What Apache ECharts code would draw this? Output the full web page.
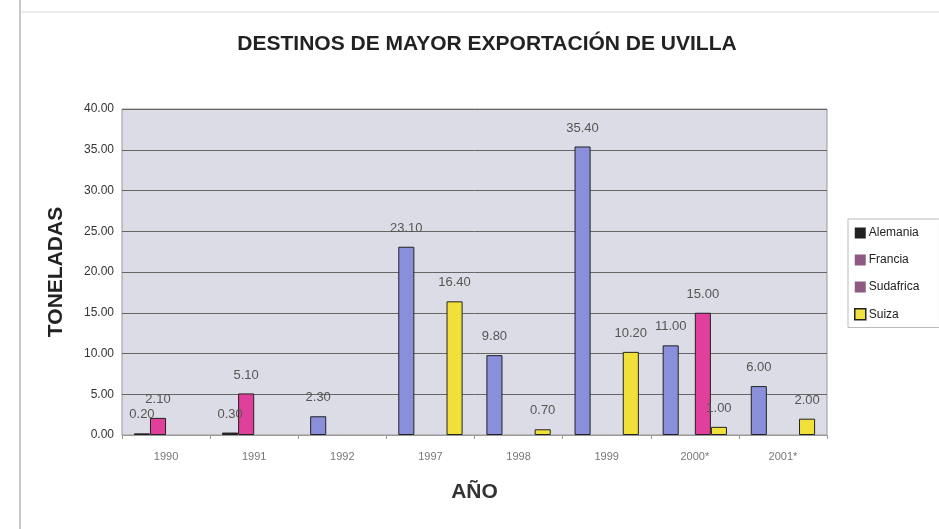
<!DOCTYPE html>
<html>
<head>
<meta charset="utf-8">
<script src="https://cdn.jsdelivr.net/npm/echarts@6/dist/echarts.min.js"></script>
<style>
html, body { margin: 0; padding: 0; background: #fff; }
#chart { width: 939px; height: 529px; }
</style>
</head>
<body>
<div id="chart"></div>
<script>
var years = ['1990', '1991', '1992', '1997', '1998', '1999', '2000*', '2001*'];
var yTicks = [0, 5, 10, 15, 20, 25, 30, 35, 40];
var seriesNames = ['Alemania', 'Francia', 'Sudafrica', 'Suiza'];
// primer lugar de cada grupo (negro en 1990-91, azul despues)
var alemania = [0.2, 0.3, 2.3, 23.1, 9.8, 35.4, 11.0, 6.0];
var francia = [2.1, 5.1, null, null, null, null, null, null];
var sudafrica = [null, null, null, null, null, null, 15.0, null];
var suiza = [null, null, null, 16.4, 0.7, 10.2, 1.0, 2.0];

var myChart = echarts.init(document.getElementById('chart'));

var labelStyle = {
    show: true,
    position: 'top',
    distance: 12,
    color: '#555',
    fontSize: 13,
    fontFamily: 'Arial, "Liberation Sans", sans-serif',
    formatter: function (p) { return p.value == null ? '' : p.value.toFixed(2); }
};

function barSeries(name, data, color) {
    return {
        name: name,
        type: 'bar',
        data: data,
        barGap: 0,
        barCategoryGap: '27%',
        itemStyle: {
            color: color,
            borderColor: '#222',
            borderWidth: 1
        },
        label: labelStyle
    };
}

var s1 = barSeries(seriesNames[0], alemania, function (p) {
    return p.dataIndex < 2 ? '#222' : '#8a8fdc';
});

var option = {
    backgroundColor: '#fff',
    title: {
        text: 'DESTINOS DE MAYOR EXPORTACIÓN DE UVILLA',
        left: 482,
        textAlign: 'center',
        top: 29,
        textStyle: {
            fontFamily: 'Arial, "Liberation Sans", sans-serif',
            fontWeight: 'bold',
            fontSize: 21,
            color: '#222'
        }
    },
    legend: {
        orient: 'vertical',
        left: 848,
        top: 219,
        itemWidth: 11,
        itemHeight: 11,
        itemGap: 15,
        padding: [8, 20, 7, 6],
        backgroundColor: '#fff',
        borderColor: '#bbb',
        borderWidth: 1,
        textStyle: {
            fontSize: 12,
            color: '#222',
            fontFamily: 'Arial, "Liberation Sans", sans-serif',
            padding: [0, 0, 0, -2]
        },
        data: [
            { name: seriesNames[0], icon: 'rect', itemStyle: { color: '#222', borderWidth: 0 } },
            { name: seriesNames[1], icon: 'rect', itemStyle: { color: '#8e5a82', borderWidth: 0 } },
            { name: seriesNames[2], icon: 'rect', itemStyle: { color: '#8e5a82', borderWidth: 0 } },
            { name: seriesNames[3], icon: 'rect', itemStyle: { color: '#f0e040', borderColor: '#222', borderWidth: 1.5 } }
        ]
    },
    grid: {
        left: 122,
        right: 112,
        top: 109,
        bottom: 94,
        show: true,
        backgroundColor: '#dcdce6',
        borderColor: '#999',
        borderWidth: 1
    },
    xAxis: {
        type: 'category',
        data: years,
        name: 'AÑO',
        nameLocation: 'middle',
        nameGap: 47,
        nameTextStyle: {
            fontSize: 21,
            fontWeight: 'bold',
            color: '#333',
            fontFamily: 'Arial, "Liberation Sans", sans-serif'
        },
        axisLine: { lineStyle: { color: '#999' } },
        axisTick: { show: true, length: 4, lineStyle: { color: '#999' } },
        axisLabel: {
            margin: 16,
            fontSize: 11,
            color: '#777',
            fontFamily: 'Arial, "Liberation Sans", sans-serif'
        }
    },
    yAxis: {
        type: 'value',
        min: yTicks[0],
        max: yTicks[yTicks.length - 1],
        interval: yTicks[1] - yTicks[0],
        name: 'TONELADAS',
        nameLocation: 'middle',
        nameGap: 55,
        nameTextStyle: {
            fontSize: 21,
            fontWeight: 'bold',
            color: '#222',
            fontFamily: 'Arial, "Liberation Sans", sans-serif'
        },
        axisLine: { show: false },
        axisTick: { show: false },
        axisLabel: {
            margin: 8,
            fontSize: 12,
            color: '#333',
            fontFamily: 'Arial, "Liberation Sans", sans-serif',
            formatter: function (v) { return v.toFixed(2); }
        },
        splitLine: { lineStyle: { color: '#666', width: 1 } }
    },
    graphic: [
        { type: 'line', shape: { x1: 20, y1: 0, x2: 20, y2: 529 }, style: { stroke: '#c8c8c8', lineWidth: 2 } },
        { type: 'line', shape: { x1: 20, y1: 12, x2: 939, y2: 12 }, style: { stroke: '#d8d8d8', lineWidth: 1 } }
    ],
    series: [
        s1,
        barSeries(seriesNames[1], francia, '#e0409c'),
        barSeries(seriesNames[2], sudafrica, '#e0409c'),
        barSeries(seriesNames[3], suiza, '#f2e03a')
    ]
};

myChart.setOption(option, true);
window.onresize = myChart.resize;
</script>
</body>
</html>
